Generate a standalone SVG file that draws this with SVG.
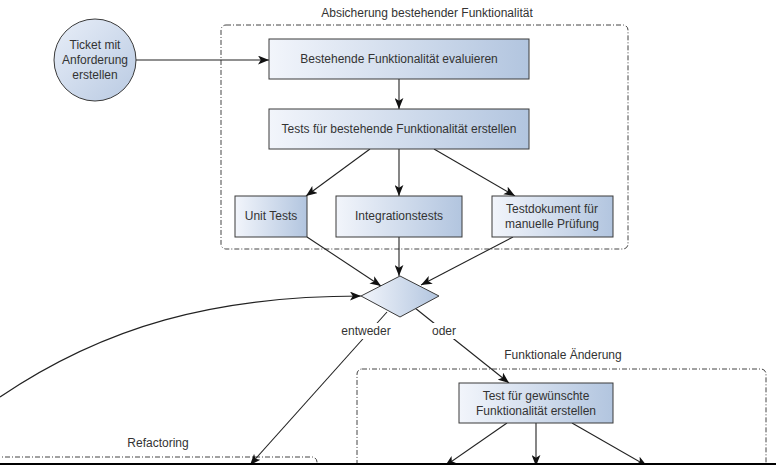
<svg xmlns="http://www.w3.org/2000/svg" width="776" height="465" viewBox="0 0 776 465">
<defs>
<linearGradient id="g" x1="0" y1="0" x2="1" y2="0">
<stop offset="0" stop-color="#f2f5fb"/>
<stop offset="1" stop-color="#b2c5df"/>
</linearGradient>
<linearGradient id="gc" x1="0" y1="0" x2="1" y2="1">
<stop offset="0" stop-color="#e8eef8"/>
<stop offset="1" stop-color="#b9cae2"/>
</linearGradient>
<marker id="a" viewBox="0 0 10 8" refX="10" refY="4" markerWidth="11" markerHeight="9" markerUnits="userSpaceOnUse" orient="auto">
<path d="M0,0 L10,4 L0,8 L2.5,4 z" fill="#111"/>
</marker>
<style>
.box{fill:url(#g);stroke:#3a3a3a;stroke-width:1}
.grp{fill:none;stroke:#444;stroke-width:1;stroke-dasharray:5 2 1 2}
.t{font-family:"Liberation Sans",Arial,sans-serif;font-size:12px;fill:#333;text-anchor:middle}
.c{fill:none;stroke:#222;stroke-width:1.1;marker-end:url(#a)}
.lb{fill:#fff}
</style>
</defs>
<rect width="776" height="465" fill="#fff"/>

<g id="group-absicherung">
<rect class="grp" x="221" y="25" width="407" height="224" rx="5"/>
<text class="t" x="427" y="17">Absicherung bestehender Funktionalität</text>
</g>
<g id="group-funktional">
<rect class="grp" x="357" y="369" width="409" height="120" rx="5"/>
<text class="t" x="563" y="359">Funktionale Änderung</text>
</g>
<g id="group-refactoring">
<rect class="grp" x="-20" y="457" width="337" height="40" rx="5"/>
<text class="t" x="158" y="447">Refactoring</text>
</g>

<g id="connectors">
<line class="c" x1="136" y1="60" x2="269" y2="60"/>
<line class="c" x1="399" y1="79" x2="399" y2="109"/>
<line class="c" x1="370" y1="149" x2="306" y2="196"/>
<line class="c" x1="399" y1="149" x2="399" y2="196"/>
<line class="c" x1="434" y1="149" x2="515" y2="196"/>
<line class="c" x1="307" y1="237" x2="381" y2="286"/>
<line class="c" x1="399" y1="237" x2="399" y2="276"/>
<line class="c" x1="513" y1="237" x2="421" y2="285"/>
<path class="c" d="M0 397 C105 326 215 296 361 296"/>
<line class="c" x1="387" y1="312" x2="250" y2="465"/>
<line class="c" x1="415" y1="308" x2="509" y2="383"/>
<line class="c" x1="507" y1="423" x2="445" y2="466"/>
<line class="c" x1="536" y1="423" x2="536" y2="466"/>
<line class="c" x1="572" y1="423" x2="647" y2="466"/>
<rect class="lb" x="340" y="323" width="54" height="16"/>
<text class="t" x="366" y="335">entweder</text>
<rect class="lb" x="429" y="323" width="30" height="16"/>
<text class="t" x="444" y="335">oder</text>
</g>

<g id="start">
<circle cx="95" cy="60" r="41" fill="url(#gc)" stroke="#3a3a3a" stroke-width="1"/>
<text class="t" x="95" y="49">Ticket mit</text>
<text class="t" x="95" y="64">Anforderung</text>
<text class="t" x="95" y="79">erstellen</text>
</g>
<g id="evaluieren">
<rect class="box" x="269" y="39" width="260" height="40"/>
<text class="t" x="399" y="63">Bestehende Funktionalität evaluieren</text>
</g>
<g id="tests-erstellen">
<rect class="box" x="269" y="109" width="260" height="40"/>
<text class="t" x="399" y="133">Tests für bestehende Funktionalität erstellen</text>
</g>
<g id="unit-tests">
<rect class="box" x="235" y="196" width="72" height="41"/>
<text class="t" x="271" y="220">Unit Tests</text>
</g>
<g id="integrationstests">
<rect class="box" x="336" y="196" width="126" height="41"/>
<text class="t" x="399" y="220">Integrationstests</text>
</g>
<g id="testdokument">
<rect class="box" x="492" y="196" width="121" height="41"/>
<text class="t" x="552" y="213">Testdokument für</text>
<text class="t" x="552" y="228">manuelle Prüfung</text>
</g>
<g id="entscheidung">
<polygon points="361,296 400,276 439,296 400,317" fill="url(#g)" stroke="#3a3a3a" stroke-width="1"/>
</g>
<g id="test-gewuenscht">
<rect class="box" x="459" y="383" width="154" height="40"/>
<text class="t" x="536" y="400">Test für gewünschte</text>
<text class="t" x="536" y="415">Funktionalität erstellen</text>
</g>
<line x1="0" y1="464" x2="776" y2="464" stroke="#000" stroke-width="2"/>
</svg>
